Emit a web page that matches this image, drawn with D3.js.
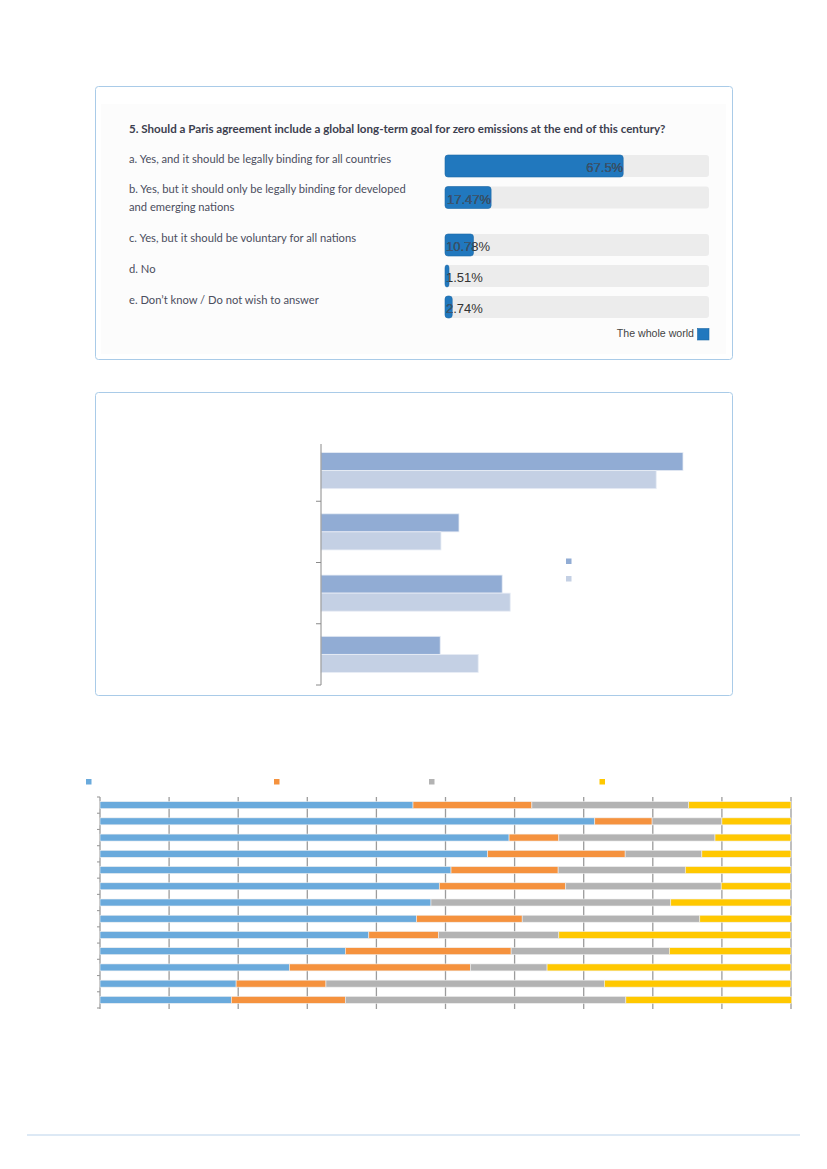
<!DOCTYPE html>
<html>
<head>
<meta charset="utf-8">
<script src="https://cdn.jsdelivr.net/npm/d3@7"></script>
<style>
  html, body { margin: 0; padding: 0; background: #fff; }
  svg { display: block; }
</style>
</head>
<body>
<div id="page"></div>
<script>
// ---- poll panel ----
var pollTitle = "5. Should a Paris agreement include a global long-term goal for zero emissions at the end of this century?";
var pollLabels = [
    ["a. Yes, and it should be legally binding for all countries"],
    ["b. Yes, but it should only be legally binding for developed", "and emerging nations"],
    ["c. Yes, but it should be voluntary for all nations"],
    ["d. No"],
    ["e. Don\u2019t know / Do not wish to answer"]
];
var pollValues = [67.5, 17.47, 10.78, 1.51, 2.74];
var pollLegend = "The whole world";

// ---- grouped bars (no labels in the picture) ----
var midCategories = ["g1", "g2", "g3", "g4"];
var midSeriesDark = [90.5, 34.5, 45.3, 29.8];
var midSeriesLight = [83.8, 30.0, 47.3, 39.3];

// ---- 100% stacked bars ----
var rowIds = ["r1", "r2", "r3", "r4", "r5", "r6", "r7", "r8", "r9", "r10", "r11", "r12", "r13"];
var shareBlue   = [45.3, 71.6, 59.2, 56.1, 50.8, 49.1, 47.9, 45.8, 38.9, 35.5, 27.4, 19.7, 19.0];
var shareOrange = [17.2,  8.3,  7.2, 19.9, 15.5, 18.3,  0.0, 15.3, 10.1, 24.0, 26.2, 13.0, 16.5];
var shareGray   = [22.7, 10.1, 22.6, 11.1, 18.4, 22.5, 34.7, 25.7, 17.4, 22.9, 11.1, 40.3, 40.6];
var shareYellow = [14.8, 10.0, 11.0, 12.9, 15.3, 10.1, 17.4, 13.3, 33.6, 17.6, 35.3, 27.0, 24.0];
var stackKeys = ["blue", "orange", "gray", "yellow"];
var stackColors = ["#6aaadc", "#f5923e", "#b3b3b3", "#ffc800"];

var W = 827, H = 1169;
var svg = d3.select("#page").append("svg")
    .attr("width", W)
    .attr("height", H);

var panelStroke = "#a9cbe8";

/* Poll panel */
var poll = svg.append("g");
poll.append("rect")
    .attr("x", 95.5).attr("y", 86.5)
    .attr("width", 637).attr("height", 273)
    .attr("rx", 3)
    .attr("fill", "#fff")
    .attr("stroke", panelStroke);
poll.append("rect")
    .attr("x", 101).attr("y", 104)
    .attr("width", 625).attr("height", 250)
    .attr("fill", "#fcfcfc");

poll.append("text")
    .attr("x", 129).attr("y", 133)
    .attr("font-family", "Lato, 'Open Sans', sans-serif")
    .attr("font-weight", "bold")
    .attr("font-size", 11.6)
    .attr("fill", "#3c3f4f")
    .text(pollTitle);

var rowCenters = [166, 197.5, 245, 276, 307];
var yPoll = d3.scaleOrdinal().domain(d3.range(pollValues.length)).range(rowCenters);
var xPoll = d3.scaleLinear().domain([0, 100]).range([445, 709]);
var barH = 22;

var pollRows = poll.selectAll("g.row")
    .data(pollValues)
    .enter()
    .append("g")
    .attr("class", "row");

pollRows.each(function(d, i) {
    var g = d3.select(this);
    var lines = pollLabels[i];
    var cy = yPoll(i);
    g.selectAll("text.lbl")
        .data(lines)
        .enter()
        .append("text")
        .attr("class", "lbl")
        .attr("x", 129)
        .attr("y", function(l, k) {
            if (lines.length === 1) { return cy - 3; }
            return cy - 5 + k * 18;
        })
        .attr("font-family", "Lato, 'Open Sans', sans-serif")
        .attr("font-size", 11.2)
        .attr("fill", "#4b4e5e")
        .text(function(l) { return l; });

    g.append("rect")
        .attr("x", xPoll(0)).attr("y", cy - barH / 2)
        .attr("width", xPoll(100) - xPoll(0)).attr("height", barH)
        .attr("rx", 3)
        .attr("fill", "#ececec");
    var barEnd = xPoll(d);
    g.append("rect")
        .attr("x", xPoll(0)).attr("y", cy - barH / 2)
        .attr("width", Math.max(barEnd - xPoll(0), 4)).attr("height", barH)
        .attr("rx", 3)
        .attr("fill", "#2178be")
        .attr("stroke", "#1c68a6")
        .attr("stroke-width", 0.6);

    var clipId = "clip" + i;
    svg.append("defs").append("clipPath").attr("id", clipId)
        .append("rect")
        .attr("x", xPoll(0)).attr("y", cy - barH / 2)
        .attr("width", Math.max(barEnd - xPoll(0), 4)).attr("height", barH);

    var val = d + "%";
    var t = g.append("text")
        .attr("y", cy + 6)
        .attr("font-family", "'Liberation Sans', Arial, sans-serif")
        .attr("font-size", 13)
        .attr("fill", "#333")
        .text(val);
    var tw = t.node().getComputedTextLength();
    var tx = Math.max(xPoll(0) + 1, barEnd - tw);
    t.attr("x", tx);
    g.append("text")
        .attr("x", tx).attr("y", cy + 6)
        .attr("font-family", "'Liberation Sans', Arial, sans-serif")
        .attr("font-size", 13)
        .attr("fill", "#3a5672")
        .attr("clip-path", "url(#" + clipId + ")")
        .text(val);
});

poll.append("text")
    .attr("x", 694).attr("y", 337)
    .attr("text-anchor", "end")
    .attr("font-family", "'Liberation Sans', Arial, sans-serif")
    .attr("font-size", 10.6)
    .attr("fill", "#444")
    .text(pollLegend);
poll.append("rect")
    .attr("x", 697.5).attr("y", 328.5)
    .attr("width", 11.5).attr("height", 11.5)
    .attr("fill", "#2178be")
    .attr("stroke", "#1c68a6")
    .attr("stroke-width", 0.6);

/* Grouped bar panel */
var mid = svg.append("g");
mid.append("rect")
    .attr("x", 95.5).attr("y", 392.5)
    .attr("width", 637).attr("height", 303)
    .attr("rx", 3)
    .attr("fill", "#fff")
    .attr("stroke", panelStroke);

var yMid = d3.scaleBand()
    .domain(midCategories)
    .range([440, 685])
    .paddingInner(0.41)
    .paddingOuter(0.205);
var yMidSub = d3.scaleBand()
    .domain(["dark", "light"])
    .range([0, yMid.bandwidth()]);
var xMid = d3.scaleLinear().domain([0, 100]).range([321, 721]);

var midData = midCategories.map(function(c, i) {
    return {cat: c, dark: midSeriesDark[i], light: midSeriesLight[i]};
});
var midColors = {dark: "#91acd4", light: "#c4d0e4"};

var grp = mid.selectAll("g.grp")
    .data(midData)
    .enter()
    .append("g")
    .attr("class", "grp")
    .attr("transform", function(d) { return "translate(0," + yMid(d.cat) + ")"; });
grp.selectAll("rect")
    .data(function(d) { return [{k: "dark", v: d.dark}, {k: "light", v: d.light}]; })
    .enter()
    .append("rect")
    .attr("x", xMid(0))
    .attr("y", function(d) { return yMidSub(d.k); })
    .attr("width", function(d) { return xMid(d.v) - xMid(0); })
    .attr("height", yMidSub.bandwidth())
    .attr("fill", function(d) { return midColors[d.k]; })
    .attr("stroke", "#e8edf5")
    .attr("stroke-width", 0.8);

// category axis: line + ticks at band boundaries
var step = yMid.step();
var midTicks = d3.range(midCategories.length).map(function(i) {
    return yMid(midCategories[i]) - step * 0.205 + step;
});
mid.append("line")
    .attr("x1", 321).attr("x2", 321)
    .attr("y1", 444).attr("y2", 685)
    .attr("stroke", "#8a8a8a").attr("stroke-width", 1);
mid.selectAll("line.tk")
    .data(midTicks)
    .enter()
    .append("line")
    .attr("class", "tk")
    .attr("x1", 316).attr("x2", 321)
    .attr("y1", function(d) { return d; })
    .attr("y2", function(d) { return d; })
    .attr("stroke", "#8a8a8a").attr("stroke-width", 1);

mid.selectAll("rect.lg")
    .data(["dark", "light"])
    .enter()
    .append("rect")
    .attr("class", "lg")
    .attr("x", 566)
    .attr("y", function(d, i) { return 558.5 + i * 17.5; })
    .attr("width", 5.5).attr("height", 5.5)
    .attr("fill", function(d) { return midColors[d]; });

/* 100% stacked bars */
var bot = svg.append("g");
var xBot = d3.scaleLinear().domain([0, 100]).range([100, 791]);
var yBot = d3.scaleBand()
    .domain(rowIds)
    .range([797, 1008])
    .paddingInner(0.57)
    .paddingOuter(0.285);

bot.selectAll("line.grid")
    .data(xBot.ticks(10))
    .enter()
    .append("line")
    .attr("class", "grid")
    .attr("x1", function(d) { return xBot(d); })
    .attr("x2", function(d) { return xBot(d); })
    .attr("y1", 797).attr("y2", 1009)
    .attr("stroke", "#9c9c9c").attr("stroke-width", 1.3);

var rowTicks = d3.range(rowIds.length + 1).map(function(i) {
    return 797 + (1008 - 797) * i / rowIds.length;
});
bot.selectAll("line.rt")
    .data(rowTicks)
    .enter()
    .append("line")
    .attr("class", "rt")
    .attr("x1", 97).attr("x2", 100)
    .attr("y1", function(d) { return d; })
    .attr("y2", function(d) { return d; })
    .attr("stroke", "#9c9c9c").attr("stroke-width", 1.1);

var table = rowIds.map(function(r, i) {
    return {row: r, blue: shareBlue[i], orange: shareOrange[i], gray: shareGray[i], yellow: shareYellow[i]};
});
var series = d3.stack().keys(stackKeys)(table);

bot.selectAll("g.series")
    .data(series)
    .enter()
    .append("g")
    .attr("class", "series")
    .attr("fill", function(d, i) { return stackColors[i]; })
    .selectAll("rect")
    .data(function(d) { return d; })
    .enter()
    .append("rect")
    .attr("x", function(d) { return xBot(d[0]); })
    .attr("y", function(d) { return yBot(d.data.row); })
    .attr("width", function(d) { return Math.max(0, xBot(d[1]) - xBot(d[0])); })
    .attr("height", yBot.bandwidth())
    .attr("stroke", "#f0f0f0")
    .attr("stroke-width", 0.6);

var legendX = [86, 274, 429, 599.5];
bot.selectAll("rect.lg")
    .data(stackKeys)
    .enter()
    .append("rect")
    .attr("class", "lg")
    .attr("x", function(d, i) { return legendX[i]; })
    .attr("y", 779)
    .attr("width", 5.5).attr("height", 5.5)
    .attr("fill", function(d, i) { return stackColors[i]; });

// footer rule
svg.append("line")
    .attr("x1", 27).attr("x2", 800)
    .attr("y1", 1135).attr("y2", 1135)
    .attr("stroke", "#dde9f5").attr("stroke-width", 2);
</script>
</body>
</html>
